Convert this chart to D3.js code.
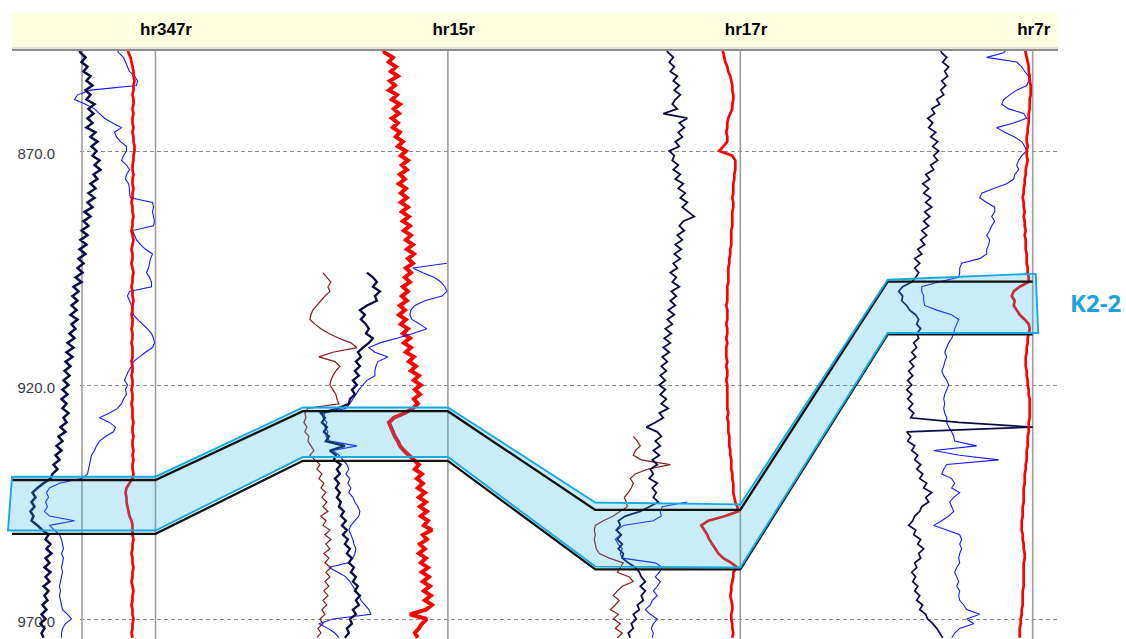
<!DOCTYPE html>
<html>
<head>
<meta charset="utf-8">
<script src="https://cdn.jsdelivr.net/npm/d3@7"></script>
<style>
  html, body { margin: 0; padding: 0; background: #ffffff; }
  svg { display: block; }
</style>
</head>
<body>
<svg id="chart" width="1126" height="639"></svg>
<script>
// ---- wells and depth axis ----
const wells = ["hr347r", "hr15r", "hr17r", "hr7r"];
const depthTicks = [870, 920, 970];

// ---- log curves: one sample per metre, starting at the listed depth ----
// hr347r
const hr347rStart = 848;
const hr347rGR = [
  68, 70, 75, 71, 77, 73, 80, 76, 82, 75,
  80, 76, 84, 78, 83, 77, 82, 76, 85, 80,
  87, 81, 86, 82, 89, 84, 90, 83, 87, 80,
  85, 78, 84, 77, 82, 74, 80, 73, 78, 71,
  77, 70, 76, 69, 75, 68, 73, 67, 72, 65,
  71, 63, 68, 62, 67, 61, 66, 60, 67, 61,
  65, 59, 64, 57, 63, 56, 62, 55, 60, 54,
  59, 53, 58, 52, 57, 51, 56, 52, 58, 53,
  56, 50, 55, 48, 52, 46, 51, 45, 49, 43,
  47, 42, 40, 33, 27, 22, 25, 21, 24, 20,
  23, 21, 27, 32, 38, 35, 40, 36, 41, 35,
  39, 34, 40, 35, 39, 33, 38, 34, 37, 32,
  36, 31, 35, 30, 34, 31, 33
];
const hr347rAC = [
  106, 108, 113, 115, 117, 119, 124, 127, 126, 80,
  67, 64, 75, 84, 89, 94, 102, 111, 104, 106,
  110, 116, 116, 113, 111, 116, 119, 116, 115, 118,
  119, 119, 120, 142, 143, 142, 143, 144, 143, 122,
  124, 126, 130, 135, 142, 140, 139, 138, 136, 139,
  141, 141, 119, 117, 119, 121, 122, 123, 127, 132,
  137, 141, 143, 144, 142, 135, 129, 123, 121, 118,
  116, 114, 117, 115, 116, 113, 111, 107, 99, 89,
  99, 105, 103, 95, 89, 86, 84, 81, 80, 79,
  78, 77, 71, 49, 39, 36, 38, 35, 37, 34,
  39, 64, 39, 44, 49, 51, 52, 53, 51, 53,
  52, 51, 52, 51, 50, 49, 50, 49, 50, 51,
  52, 57, 61, 55, 52, 51, 51
];
const hr347rRT = [
  117, 118, 120, 121, 122, 123, 123, 124, 123, 123,
  122, 123, 123, 122, 123, 122, 122, 123, 122, 123,
  123, 124, 124, 123, 123, 122, 122, 123, 122, 122,
  123, 122, 122, 121, 122, 122, 123, 122, 122, 121,
  122, 123, 122, 121, 122, 122, 121, 122, 123, 122,
  122, 121, 122, 122, 123, 122, 122, 121, 122, 122,
  121, 122, 122, 121, 122, 122, 122, 121, 122, 122,
  121, 122, 122, 121, 122, 122, 121, 122, 122, 122,
  123, 122, 122, 123, 122, 122, 123, 122, 123, 122,
  122, 123, 122, 119, 116, 115, 116, 116, 117, 118,
  119, 121, 122, 122, 122, 123, 122, 122, 121, 122,
  122, 123, 122, 122, 121, 122, 123, 122, 122, 121,
  122, 122, 123, 122, 122, 121, 122
];

// hr15r
const hr15rRTStart = 848;
const hr15rRT = [
  80, 82, 90, 86, 93, 88, 95, 87, 92, 86,
  94, 89, 97, 91, 96, 89, 95, 90, 97, 93,
  100, 95, 103, 98, 105, 99, 104, 97, 102, 96,
  103, 98, 104, 98, 105, 99, 106, 100, 107, 101,
  108, 103, 110, 104, 111, 105, 110, 103, 108, 102,
  107, 100, 105, 99, 104, 97, 102, 96, 103, 98,
  105, 100, 107, 101, 108, 103, 111, 106, 113, 108,
  116, 111, 118, 112, 117, 111, 115, 110, 102, 91,
  86, 88, 90, 92, 95, 97, 101, 106, 111, 116,
  112, 119, 114, 120, 115, 122, 116, 123, 117, 124,
  118, 125, 121, 129, 120, 124, 117, 122, 116, 123,
  118, 125, 119, 126, 120, 127, 121, 128, 122, 129,
  123, 107, 124, 119, 116, 112, 115
];
const hr15rACStart = 894;
const hr15rAC = [
  144, 110, 120, 131, 138, 142, 144, 139, 122, 112,
  108, 107, 109, 117, 124, 110, 94, 77, 66, 72,
  85, 75, 73, 72, 72, 64, 60, 56, 53, 50,
  47, 43, 22, 20, 24, 22, 25, 23, 27, 54,
  30, 36, 40, 44, 46, 43, 47, 45, 48, 46,
  50, 52, 55, 57, 56, 52, 48, 46, 48, 50,
  51, 53, 52, 50, 45, 26, 35, 43, 47, 50,
  53, 56, 58, 62, 66, 68, 30, 16, 25, 32,
  36
];
const hr15rGRStart = 896;
const hr15rGR = [
  64, 70, 74, 70, 77, 72, 74, 64, 57, 62,
  58, 63, 66, 63, 70, 66, 60, 55, 58, 53,
  57, 52, 56, 50, 54, 49, 52, 47, 46, 35,
  18, 22, 19, 24, 21, 26, 23, 42, 27, 33,
  31, 38, 34, 37, 32, 36, 33, 37, 34, 38,
  36, 41, 38, 43, 39, 44, 40, 45, 42, 47,
  44, 49, 46, 51, 48, 53, 50, 55, 52, 57,
  53, 56, 50, 53, 47, 49, 44, 46, 42
];
const hr15rCNLStart = 896;
const hr15rCNL = [
  20, 24, 28, 25, 27, 22, 18, 14, 10, 8,
  7, 12, 18, 26, 36, 48, 54, 30, 16, 32,
  37, 33, 30, 28, 27, 30, 33, 34, 36, 5,
  2, 3, 1, 4, 2, 6, 5, 8, 11, 7,
  12, 17, 14, 19, 16, 21, 18, 23, 19, 24,
  20, 25, 18, 23, 20, 27, 22, 28, 23, 27,
  21, 26, 22, 28, 23, 27, 22, 26, 21, 25,
  20, 24, 19, 22, 17, 20, 15, 18, 14
];

// hr17r
const hr17rStart = 848;
const hr17rGR = [
  70, 73, 78, 74, 79, 75, 82, 78, 84, 79,
  85, 80, 77, 82, 68, 92, 84, 89, 83, 87,
  80, 84, 74, 79, 77, 83, 78, 85, 80, 88,
  83, 90, 85, 92, 87, 93, 99, 88, 84, 89,
  82, 87, 80, 86, 79, 85, 78, 82, 75, 81,
  77, 84, 76, 81, 75, 80, 73, 79, 72, 77,
  70, 76, 69, 75, 68, 74, 67, 72, 66, 71,
  65, 70, 64, 70, 65, 71, 66, 73, 64, 68,
  60, 51, 62, 66, 60, 65, 58, 64, 57, 62,
  55, 58, 54, 62, 57, 61, 58, 63, 54, 45,
  30, 23, 25, 21, 26, 22, 27, 23, 28, 27,
  33, 40, 44, 46, 50, 45, 50, 46, 48, 42,
  44, 38, 41, 36, 38, 33, 35
];
const hr17rRT = [
  127, 128, 129, 130, 132, 133, 135, 136, 137, 137,
  138, 138, 137, 137, 135, 133, 132, 132, 131, 132,
  132, 128, 124, 137, 140, 140, 140, 139, 139, 138,
  138, 138, 137, 138, 138, 137, 137, 137, 137, 136,
  136, 136, 136, 135, 135, 134, 134, 133, 133, 133,
  133, 132, 132, 132, 132, 131, 132, 132, 132, 131,
  132, 132, 131, 132, 131, 131, 131, 132, 131, 132,
  132, 131, 132, 132, 132, 132, 132, 132, 133, 132,
  133, 133, 133, 134, 134, 134, 135, 135, 136, 136,
  136, 137, 137, 138, 138, 138, 139, 140, 142, 143,
  130, 113, 106, 109, 112, 114, 117, 120, 123, 128,
  136, 142, 138, 138, 137, 136, 136, 135, 136, 137,
  137, 136, 136, 137, 137, 138, 137
];
const hr17rCNLStart = 931;
const hr17rCNL = [
  38, 42, 45, 40, 38, 46, 75, 52, 40, 35,
  38, 36, 33, 29, 31, 32, 25, 18, 8, 0,
  -1, 0, -1, 0, 1, 4, 14, 28, 25, 22,
  34, 38, 27, 22, 18, 24, 20, 15, 23, 18,
  25, 20, 27, 22
];
const hr17rACStart = 945;
const hr17rAC = [
  92, 67, 65, 66, 58, 28, 22, 25, 20, 23,
  27, 25, 27, 60, 67, 64, 60, 65, 62, 58,
  62, 57, 55, 50, 55, 62, 58, 56, 58, 57
];

// hr7r
const hr7rStart = 848;
const hr7rGR = [
  52, 54, 59, 55, 61, 57, 60, 54, 58, 53,
  56, 49, 52, 44, 47, 40, 45, 41, 48, 43,
  50, 45, 51, 46, 50, 43, 46, 38, 42, 35,
  41, 36, 43, 38, 44, 37, 42, 36, 41, 34,
  39, 33, 37, 30, 34, 27, 32, 27, 31, 28,
  24, 15, 11, 15, 14, 19, 22, 28, 31, 29,
  33, 29, 31, 26, 29, 24, 28, 22, 26, 21,
  25, 20, 24, 19, 24, 20, 25, 21, 26, 23,
  71, 145, 19, 23, 20, 27, 24, 30, 27, 33,
  29, 35, 32, 39, 36, 44, 38, 41, 34, 32,
  27, 25, 21, 28, 26, 33, 30, 36, 31, 33,
  27, 29, 24, 28, 25, 30, 27, 32, 29, 35,
  32, 38, 40, 45, 49, 52, 55
];
const hr7rAC = [
  120, 116, 99, 129, 134, 137, 141, 141, 139, 129,
  122, 116, 114, 121, 136, 139, 126, 109, 117, 127,
  134, 137, 139, 134, 131, 129, 131, 127, 126, 119,
  106, 94, 92, 99, 107, 107, 104, 107, 104, 102,
  99, 102, 101, 99, 99, 92, 74, 72, 72, 71,
  51, 34, 34, 36, 36, 37, 49, 64, 71, 69,
  67, 66, 64, 61, 59, 57, 59, 57, 56, 54,
  56, 59, 61, 59, 57, 56, 57, 56, 57, 59,
  59, 61, 64, 66, 67, 89, 46, 72, 111, 59,
  56, 54, 64, 67, 64, 72, 66, 62, 64, 66,
  61, 54, 46, 59, 72, 74, 72, 74, 72, 71,
  72, 69, 67, 69, 71, 69, 72, 71, 72, 76,
  79, 92, 79, 86, 72, 67, 64
];
const hr7rRT = [
  137, 138, 139, 140, 141, 141, 142, 142, 143, 143,
  143, 142, 142, 142, 141, 141, 141, 140, 140, 139,
  139, 140, 139, 139, 140, 139, 138, 138, 137, 137,
  136, 136, 135, 136, 136, 137, 136, 137, 137, 138,
  137, 138, 138, 138, 139, 139, 139, 140, 140, 141,
  141, 132, 126, 124, 127, 126, 129, 132, 137, 141,
  142, 141, 140, 140, 139, 139, 138, 138, 138, 139,
  139, 140, 140, 141, 141, 142, 142, 142, 142, 142,
  141, 141, 141, 140, 140, 140, 139, 139, 139, 138,
  138, 137, 137, 137, 136, 136, 136, 136, 135, 135,
  135, 134, 134, 134, 135, 135, 136, 136, 137, 137,
  136, 136, 136, 136, 136, 136, 135, 135, 135, 135,
  134, 134, 133, 133, 132, 132, 132
];

// ---- K2-2 layer: picked horizons (top, base) per well ----
const pickTop  = [940.3, 925.6, 946.7, 897.9];
const pickBase = [951.8, 936.2, 959.4, 909.2];
// shaded zone outline: [depth at track left, depth at well line]
const zoneTop  = [[939.6, 939.6], [924.8, 924.8], [945.1, 945.5], [897.5, 896.2]];
const zoneBase = [[951.1, 951.1], [935.4, 935.4], [958.8, 959.0], [908.9, 908.9]];
const layerName = "K2-2";

// ---- styling ----
const NAVY = "#0b0b48", BLUE = "#1a1aff", RED = "#ff0000", MAROON = "#8b1a1a";

const logs = [
  { well: "hr347r", start: hr347rStart,  values: hr347rAC,  color: BLUE,   width: 1.1 },
  { well: "hr347r", start: hr347rStart,  values: hr347rGR,  color: NAVY,   width: 2.5 },
  { well: "hr347r", start: hr347rStart,  values: hr347rRT,  color: RED,    width: 2.7 },
  { well: "hr15r",  start: hr15rRTStart, values: hr15rRT,   color: RED,    width: 4.0 },
  { well: "hr15r",  start: hr15rCNLStart,values: hr15rCNL,  color: MAROON, width: 1.2 },
  { well: "hr15r",  start: hr15rACStart, values: hr15rAC,   color: BLUE,   width: 1.1 },
  { well: "hr15r",  start: hr15rGRStart, values: hr15rGR,   color: NAVY,   width: 2.3 },
  { well: "hr17r",  start: hr17rCNLStart,values: hr17rCNL,  color: MAROON, width: 1.2 },
  { well: "hr17r",  start: hr17rACStart, values: hr17rAC,   color: BLUE,   width: 1.1 },
  { well: "hr17r",  start: hr17rStart,   values: hr17rGR,   color: NAVY,   width: 1.8 },
  { well: "hr17r",  start: hr17rStart,   values: hr17rRT,   color: RED,    width: 2.7 },
  { well: "hr7r",   start: hr7rStart,    values: hr7rAC,    color: BLUE,   width: 1.1 },
  { well: "hr7r",   start: hr7rStart,    values: hr7rGR,    color: NAVY,   width: 1.7 },
  { well: "hr7r",   start: hr7rStart,    values: hr7rRT,    color: RED,    width: 2.7 }
];

// ---- scales ----
const svg = d3.select("#chart");
const y = d3.scaleLinear().domain([870, 970]).range([151, 619]);
const wellX = d3.scalePoint().domain(wells).range([155.5, 1032.7]);
const TRACK = 145;
const trackScale = w => d3.scaleLinear().domain([0, TRACK]).range([wellX(w) - TRACK, wellX(w)]);

svg.append("defs").append("clipPath").attr("id", "plotClip")
  .append("rect").attr("x", 0).attr("y", 51).attr("width", 1126).attr("height", 588);

// ---- depth grid and labels ----
const axis = d3.axisLeft(y)
  .tickValues(depthTicks)
  .tickFormat(d3.format(".1f"))
  .tickSize(-977)
  .tickPadding(25);
const gAxis = svg.append("g").attr("transform", "translate(80,0)").call(axis);
gAxis.select(".domain").remove();
gAxis.selectAll(".tick line")
  .attr("stroke", "#8a8a8a").attr("stroke-width", 1).attr("stroke-dasharray", "4,3");
gAxis.selectAll(".tick text")
  .attr("fill", "#3a3a44")
  .attr("dy", "0.48em")
  .style("font-family", "'Liberation Sans', Arial, sans-serif")
  .style("font-size", "15px");

// ---- track frame lines ----
const frameX = [82].concat(wells.map(w => wellX(w)));
svg.append("g").selectAll("line").data(frameX).join("line")
  .attr("x1", d => d).attr("x2", d => d)
  .attr("y1", 51).attr("y2", 639)
  .attr("stroke", "#9d9d9d").attr("stroke-width", 1.6);

// ---- log curves ----
const gLogs = svg.append("g").attr("clip-path", "url(#plotClip)");
logs.forEach(lg => {
  const xs = trackScale(lg.well);
  const line = d3.line()
    .x(v => xs(v))
    .y((v, i) => y(lg.start + i));
  gLogs.append("path")
    .datum(lg.values)
    .attr("d", line)
    .attr("fill", "none")
    .attr("stroke", lg.color)
    .attr("stroke-width", lg.width)
    .attr("stroke-linejoin", "miter")
    .attr("stroke-miterlimit", 2);
});

// ---- K2-2 layer ----
const left = w => wellX(w) - TRACK;
const right = w => wellX(w);
const last = wells.length - 1;

const zoneTopPts = wells.flatMap((w, i) => [
  [left(w) + (i === 0 ? 1.5 : 0), y(zoneTop[i][0])],
  [right(w) + (i === last ? 3 : 0), y(zoneTop[i][1])]
]);
const zoneBasePts = wells.flatMap((w, i) => [
  [left(w) - (i === 0 ? 2.5 : 0), y(zoneBase[i][0])],
  [right(w) + (i === last ? 5.5 : 0), y(zoneBase[i][1])]
]).reverse();
const zonePoly = zoneTopPts.concat(zoneBasePts);

svg.append("path")
  .attr("d", "M" + zonePoly.map(p => p.join(",")).join("L") + "Z")
  .attr("fill", "rgb(35,179,227)")
  .attr("fill-opacity", 0.25)
  .attr("stroke", "none");

const horizonLine = d3.line();
[pickTop, pickBase].forEach(h => {
  const pts = wells.flatMap((w, i) => [[left(w) + (i === 0 ? 1.5 : 0), y(h[i])], [right(w), y(h[i])]]);
  svg.append("path")
    .attr("d", horizonLine(pts))
    .attr("fill", "none")
    .attr("stroke", "#111111")
    .attr("stroke-width", 2.3)
    .attr("stroke-linejoin", "miter");
});

svg.append("path")
  .attr("d", "M" + zonePoly.map(p => p.join(",")).join("L") + "Z")
  .attr("fill", "none")
  .attr("stroke", "#16a9e1")
  .attr("stroke-width", 1.9)
  .attr("stroke-linejoin", "miter");

svg.append("text")
  .attr("x", 1070)
  .attr("y", 312)
  .attr("fill", "#1aa2df")
  .style("font-family", "'Open Sans', 'Noto Sans', sans-serif")
  .style("font-weight", "700")
  .style("font-size", "24px")
  .text(layerName);

// ---- well header ----
svg.append("rect")
  .attr("x", 12).attr("y", 13).attr("width", 1046).attr("height", 34)
  .attr("fill", "#ffffe1");
svg.append("rect")
  .attr("x", 12).attr("y", 47).attr("width", 1046).attr("height", 2)
  .attr("fill", "#e4e4dc");
svg.append("line")
  .attr("x1", 12).attr("x2", 1058).attr("y1", 50).attr("y2", 50)
  .attr("stroke", "#8c8c8c").attr("stroke-width", 2);

svg.append("g").selectAll("text").data(wells).join("text")
  .attr("x", d => wellX(d) - 15.5)
  .attr("y", 35)
  .attr("fill", "#000000")
  .style("font-family", "'Liberation Sans', Arial, sans-serif")
  .style("font-weight", "700")
  .style("font-size", "17px")
  .text(d => d);
</script>
</body>
</html>
